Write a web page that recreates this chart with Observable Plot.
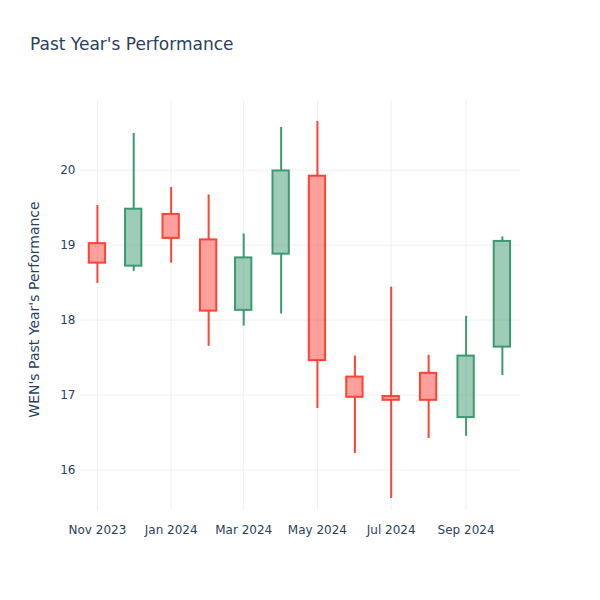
<!DOCTYPE html>
<html>
<head>
<meta charset="utf-8">
<script src="https://cdn.jsdelivr.net/npm/d3@7"></script>
<script src="https://cdn.jsdelivr.net/npm/@observablehq/plot@0.6"></script>
<style>
  html, body { margin: 0; padding: 0; background: #fff; }
  #wrap { position: relative; width: 600px; height: 600px; font-family: "DejaVu Sans", sans-serif; }
  #title { position: absolute; left: 30px; top: 34px; font-size: 17px; color: #2a3f5f; }
  g[aria-label="y-axis label"] text { font-size: 14px; }
</style>
</head>
<body>
<div id="wrap"><div id="title">Past Year's Performance</div></div>
<script>
const months = ["2023-11-01","2023-12-01","2024-01-01","2024-02-01","2024-03-01","2024-04-01","2024-05-01","2024-06-01","2024-07-01","2024-08-01","2024-09-01","2024-10-01"];
const opens  = [19.02, 18.72, 19.41, 19.07, 18.13, 18.88, 19.92, 17.24, 16.98, 17.29, 16.70, 17.64];
const highs  = [19.53, 20.49, 19.77, 19.67, 19.15, 20.57, 20.65, 17.52, 18.44, 17.53, 18.05, 19.11];
const lows   = [18.49, 18.65, 18.76, 17.65, 17.92, 18.08, 16.82, 16.22, 15.62, 16.42, 16.45, 17.26];
const closes = [18.76, 19.48, 19.09, 18.12, 18.83, 19.99, 17.46, 16.97, 16.93, 16.93, 17.52, 19.05];
const yTicks = [16, 17, 18, 19, 20];

const data = months.map((m, i) => ({
  date: new Date(m + "T00:00:00Z"),
  open: opens[i], high: highs[i], low: lows[i], close: closes[i]
}));
const DAY = 864e5;
const HALF = 6.75 * DAY;
const up = "#3D9970", down = "#FF4136";
const col = d => d.close >= d.open ? up : down;
const x0 = new Date("2023-10-18T00:00:00Z"), x1 = new Date("2024-10-16T00:00:00Z");

const chart = Plot.plot({
  width: 600,
  height: 600,
  marginLeft: 80,
  marginRight: 80,
  marginTop: 100,
  marginBottom: 90,
  style: { fontFamily: "DejaVu Sans, sans-serif", fontSize: "12px", color: "#2a3f5f", background: "white" },
  x: { type: "utc", domain: [x0, x1] },
  y: { domain: [15.46, 20.93] },
  marks: [
    Plot.gridX(d3.utcMonth.every(2).range(x0, x1), { stroke: "#ebf0f8", strokeOpacity: 1, strokeWidth: 1 }),
    Plot.gridY(yTicks, { stroke: "#ebf0f8", strokeOpacity: 1, strokeWidth: 1 }),
    Plot.axisX({ ticks: d3.utcMonth.every(2), tickFormat: d3.utcFormat("%b %Y"), tickSize: 0, tickPadding: 15, label: null, fill: "#2a3f5f" }),
    Plot.axisY({ ticks: yTicks, tickFormat: d3.format("d"), tickSize: 0, tickPadding: 5, label: "WEN's Past Year's Performance", labelAnchor: "center", labelArrow: "none", labelOffset: 51, fill: "#2a3f5f" }),
    Plot.ruleX(data, { x: "date", y1: "low", y2: d => Math.min(d.open, d.close), stroke: col, strokeWidth: 2 }),
    Plot.ruleX(data, { x: "date", y1: d => Math.max(d.open, d.close), y2: "high", stroke: col, strokeWidth: 2 }),
    Plot.rect(data, {
      x1: d => new Date(+d.date - HALF), x2: d => new Date(+d.date + HALF),
      y1: "open", y2: "close",
      fill: col, fillOpacity: 0.5, stroke: col, strokeWidth: 2
    })
  ]
});
chart.querySelectorAll('g[aria-label="y-axis label"] text').forEach(t => t.setAttribute("dx", "-4"));
document.getElementById("wrap").appendChild(chart);
</script>
</body>
</html>
